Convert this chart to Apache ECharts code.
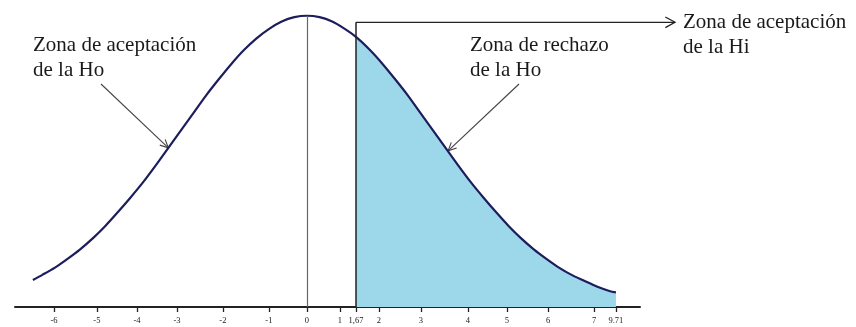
<!DOCTYPE html>
<html>
<head>
<meta charset="utf-8">
<script src="https://cdn.jsdelivr.net/npm/echarts@6/dist/echarts.min.js"></script>
<style>
  html, body { margin: 0; padding: 0; background: #ffffff; }
  #chart { width: 856px; height: 327px; }
</style>
</head>
<body>
<div id="chart"></div>
<script>
// Printed tick labels of the test-statistic axis and where each sits on the z scale
const tickLabels = ['-6', '-5', '-4', '-3', '-2', '-1', '0', '1', '1,67', '2', '3', '4', '5', '6', '7', '9.71'];
const tickAt = [-2.008, -1.667, -1.349, -1.032, -0.667, -0.302, 0, 0.262, 0.389, 0.571, 0.905, 1.278, 1.587, 1.913, 2.278, 2.452];

// Sampled density curve (z, height)
const curveZ = [-2.175, -2.1, -2.0, -1.9, -1.8, -1.7, -1.6, -1.5, -1.4, -1.3, -1.2, -1.1, -1.0, -0.9, -0.8, -0.7, -0.6, -0.5, -0.4, -0.3, -0.2, -0.1, 0,
                0.1, 0.2, 0.3, 0.389, 0.5, 0.6, 0.7, 0.8, 0.9, 1.0, 1.1, 1.2, 1.3, 1.4, 1.5, 1.6, 1.7, 1.8, 1.9, 2.0, 2.1, 2.2, 2.3, 2.4, 2.452];
const curveY = [0.037, 0.044, 0.054, 0.066, 0.079, 0.094, 0.111, 0.130, 0.150, 0.171, 0.194, 0.218, 0.242, 0.266, 0.290, 0.312, 0.333, 0.352, 0.368, 0.381, 0.391, 0.397, 0.399,
                0.397, 0.391, 0.381, 0.370, 0.352, 0.333, 0.312, 0.290, 0.266, 0.242, 0.218, 0.194, 0.171, 0.150, 0.130, 0.111, 0.094, 0.079, 0.066, 0.054, 0.044, 0.036, 0.028, 0.022, 0.020];

// Critical value (1,67) and the top of its bracket line
const criticalZ = 0.389;
const bracketTop = 0.390;

const serif = '"Liberation Serif", "DejaVu Serif", serif';

const curve = curveZ.map((z, i) => [z, curveY[i]]);
const rejection = curve.filter(d => d[0] >= criticalZ);

const chart = echarts.init(document.getElementById('chart'), null, { renderer: 'canvas' });

const option = {
  backgroundColor: '#ffffff',
  animation: false,
  grid: { left: 15, right: 216, top: 15, bottom: 20 },
  xAxis: {
    type: 'value',
    min: -2.317,
    max: 2.643,
    splitLine: { show: false },
    axisLine: { show: true, onZero: false, lineStyle: { color: '#222222', width: 2 } },
    axisTick: { show: true, length: 5, customValues: tickAt, lineStyle: { color: '#222222', width: 1.3 } },
    axisLabel: {
      show: true,
      customValues: tickAt,
      margin: 9,
      fontFamily: serif,
      fontSize: 8.5,
      color: '#1a1a1a',
      formatter: v => {
        const i = tickAt.findIndex(t => Math.abs(t - v) < 1e-6);
        return i >= 0 ? tickLabels[i] : '';
      }
    }
  },
  yAxis: {
    type: 'value',
    min: 0,
    max: 0.4,
    show: false,
    splitLine: { show: false }
  },
  series: [
    {
      name: 'rechazo',
      type: 'line',
      data: rejection,
      smooth: 0.3,
      symbol: 'none',
      lineStyle: { width: 0 },
      areaStyle: { color: '#9dd8ea', opacity: 1 },
      z: 1
    },
    {
      name: 'densidad',
      type: 'line',
      data: curve,
      smooth: 0.3,
      symbol: 'none',
      lineStyle: { color: '#1d1d5e', width: 2.2 },
      z: 3,
      markLine: {
        silent: true,
        symbol: 'none',
        label: { show: false },
        data: [
          [{ coord: [0, 0], lineStyle: { color: '#666666', width: 1.2, type: 'solid' } }, { coord: [0, 0.399] }],
          [{ coord: [criticalZ, 0], lineStyle: { color: '#222222', width: 1.5, type: 'solid' } }, { coord: [criticalZ, bracketTop] }]
        ]
      }
    }
  ]
};

chart.setOption(option);

const px = (z, y) => chart.convertToPixel({ gridIndex: 0 }, [z, y]);

// Open "V" arrow from (x1,y1) pointing at (x2,y2)
function arrow(x1, y1, x2, y2, headLen, headAng, color, width) {
  const a = Math.atan2(y2 - y1, x2 - x1);
  const h1 = [x2 - headLen * Math.cos(a - headAng), y2 - headLen * Math.sin(a - headAng)];
  const h2 = [x2 - headLen * Math.cos(a + headAng), y2 - headLen * Math.sin(a + headAng)];
  const style = { stroke: color, lineWidth: width, fill: null };
  return [
    { type: 'line', shape: { x1, y1, x2, y2 }, style },
    { type: 'polyline', shape: { points: [h1, [x2, y2], h2] }, style }
  ];
}

const leftTip = px(-1.1, 0.218);
const rightTip = px(1.12, 0.214);
const bracket = px(criticalZ, bracketTop);

const textStyle = (text) => ({
  text,
  fill: '#1a1a1a',
  font: '21px ' + serif,
  lineHeight: 25,
  textAlign: 'left',
  textVerticalAlign: 'middle'
});

chart.setOption({
  graphic: [
    ...arrow(101, 84, leftTip[0], leftTip[1], 9, 0.45, '#444444', 1.1),
    ...arrow(519, 84, rightTip[0], rightTip[1], 9, 0.45, '#444444', 1.1),
    ...arrow(bracket[0], bracket[1], 675, bracket[1], 11, 0.5, '#222222', 1.3),
    { type: 'text', x: 33, y: 58, style: textStyle('Zona de aceptación\nde la Ho') },
    { type: 'text', x: 470, y: 58, style: textStyle('Zona de rechazo\nde la Ho') },
    { type: 'text', x: 683, y: 35, style: textStyle('Zona de aceptación\nde la Hi') }
  ]
});
</script>
</body>
</html>
